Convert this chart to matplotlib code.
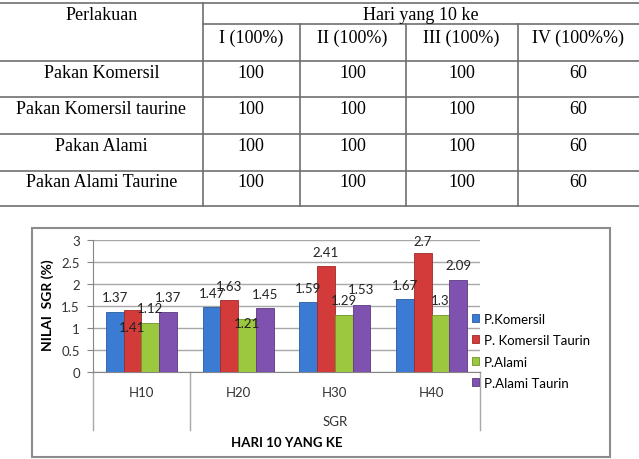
import numpy as np
import matplotlib.pyplot as plt
from matplotlib import transforms
from matplotlib.lines import Line2D
from matplotlib.patches import Rectangle

W, H = 639, 460

# ---- table data ----
table_corner = "Perlakuan"
table_group = "Hari yang 10 ke"
table_cols = ["I (100%)", "II (100%)", "III (100%)", "IV (100%%)"]
table_rows = ["Pakan Komersil", "Pakan Komersil taurine", "Pakan Alami",
              "Pakan Alami Taurine"]
table_values = [[100, 100, 100, 60],
                [100, 100, 100, 60],
                [100, 100, 100, 60],
                [100, 100, 100, 60]]

# ---- chart data ----
categories = ["H10", "H20", "H30", "H40"]
series_names = ["P.Komersil", "P. Komersil Taurin", "P.Alami", "P.Alami Taurin"]
komersil = [1.37, 1.47, 1.59, 1.67]
komersil_taurin = [1.41, 1.63, 2.41, 2.7]
alami = [1.12, 1.21, 1.29, 1.3]
alami_taurin = [1.37, 1.45, 1.53, 2.09]
ytick_labels = ["0", "0.5", "1", "1.5", "2", "2.5", "3"]

# where excel dropped each data label (relative to the bar top)
label_dy = [[0.33, 0.33, 0.33, 0.31],
            [-0.39, 0.32, 0.32, 0.28],
            [0.33, -0.10, 0.34, 0.33],
            [0.33, 0.32, 0.35, 0.34]]

colors = ["#3b7bd4", "#d33b3b", "#9cc83f", "#7f52b0"]
edges = ["#2a5a9e", "#9e2a2a", "#6f9428", "#5b3a80"]

serif = "Liberation Serif"
sans = "Lato"

fig = plt.figure(figsize=(6.39, 4.6), dpi=100)
bg = fig.add_axes([0, 0, 1, 1])
bg.set_xlim(0, W)
bg.set_ylim(H, 0)
bg.axis('off')

# ---- table ----
line_kw = dict(color='#707070', lw=1.2)
col_x = [0, 202.5, 299.5, 405.5, 517.5, 639]
row_y = [4, 25, 62, 98, 135, 172, 207]
bg.plot([0, W], [row_y[0], row_y[0]], **line_kw)
bg.plot([col_x[1], W], [row_y[1], row_y[1]], **line_kw)
for y in row_y[2:]:
    bg.plot([0, W], [y, y], **line_kw)
bg.plot([col_x[1], col_x[1]], [row_y[0], row_y[-1]], **line_kw)
for x in col_x[2:-1]:
    bg.plot([x, x], [row_y[1], row_y[-1]], **line_kw)

tfs = 13
bg.text((col_x[0] + col_x[1]) / 2, 15, table_corner, family=serif,
        fontsize=tfs, ha='center', va='center')
bg.text((col_x[1] + col_x[-1]) / 2, 15, table_group, family=serif,
        fontsize=tfs, ha='center', va='center')
centers = [(col_x[i] + col_x[i + 1]) / 2 for i in range(1, 5)]
for cx, name in zip(centers, table_cols):
    bg.text(cx, 38, name, family=serif, fontsize=tfs, ha='center', va='center')
text_y = [73, 110, 147, 183]
for ty, name, vals in zip(text_y, table_rows, table_values):
    bg.text((col_x[0] + col_x[1]) / 2, ty, name, family=serif, fontsize=tfs,
            ha='center', va='center')
    for cx, v in zip(centers, vals):
        bg.text(cx, ty, str(v), family=serif, fontsize=tfs,
                ha='center', va='center')

# ---- chart ----
bg.add_patch(Rectangle((32, 229), 578, 229, fill=False, ec='#8c8c8c', lw=1.5))

ax = fig.add_axes([93 / W, (H - 373) / H, 387 / W, 132 / H])
ax.patch.set_alpha(0)
ax.set_xlim(-0.5, 3.5)
ax.set_ylim(0, 3)

series = [komersil, komersil_taurin, alami, alami_taurin]
x = np.arange(len(categories))
bw = 0.183
for k, vals in enumerate(series):
    xs = x + (k - 1.5) * bw
    ax.bar(xs, vals, bw, color=colors[k], edgecolor=edges[k], lw=0.6,
           label=series_names[k], zorder=3)
    for xi, v, dy in zip(xs, vals, label_dy[k]):
        ax.text(xi, v + dy, f"{v:g}", family=sans, fontsize=9.5,
                ha='center', va='center', color='#222222', zorder=4)

ax.set_yticks(np.arange(0, 3.01, 0.5))
ax.set_yticklabels(ytick_labels, family=sans, fontsize=9.5, color='#333333')
ax.set_xticks([])
ax.tick_params(axis='y', length=4, color='#868686', pad=5.5)
ax.yaxis.grid(True, color='#a8a8a8', lw=1)
ax.set_axisbelow(True)
for s in ['top', 'right']:
    ax.spines[s].set_visible(False)
for s in ['left', 'bottom']:
    ax.spines[s].set_color('#868686')

tr = transforms.blended_transform_factory(ax.transData, bg.transData)
for xs in [-0.5, 0.5, 3.5]:
    bg.add_line(Line2D([xs, xs], [373, 431], transform=tr, color='#a8a8a8', lw=1))
for i, cat in enumerate(categories):
    bg.text(i, 393, cat, transform=tr, family=sans, fontsize=9.5,
            ha='center', va='center', color='#333333')
bg.text(2.0, 422, "SGR", transform=tr, family=sans, fontsize=9.5,
        ha='center', va='center', color='#333333')
bg.text(1.5, 443, "HARI 10 YANG KE", transform=tr, family=sans, fontsize=9.5,
        fontweight='bold', ha='center', va='center')
bg.text(48, 305, "NILAI  SGR (%)", family=sans, fontsize=10,
        fontweight='bold', rotation=90, ha='center', va='center')

ax.legend(loc='upper left', bbox_to_anchor=(465, 307),
          bbox_transform=bg.transData, frameon=False, borderpad=0,
          handlelength=0.55, handleheight=0.55, handletextpad=0.4,
          labelspacing=0.72, prop=dict(family=sans, size=9.5))

fig.savefig("out.png", dpi=100)
